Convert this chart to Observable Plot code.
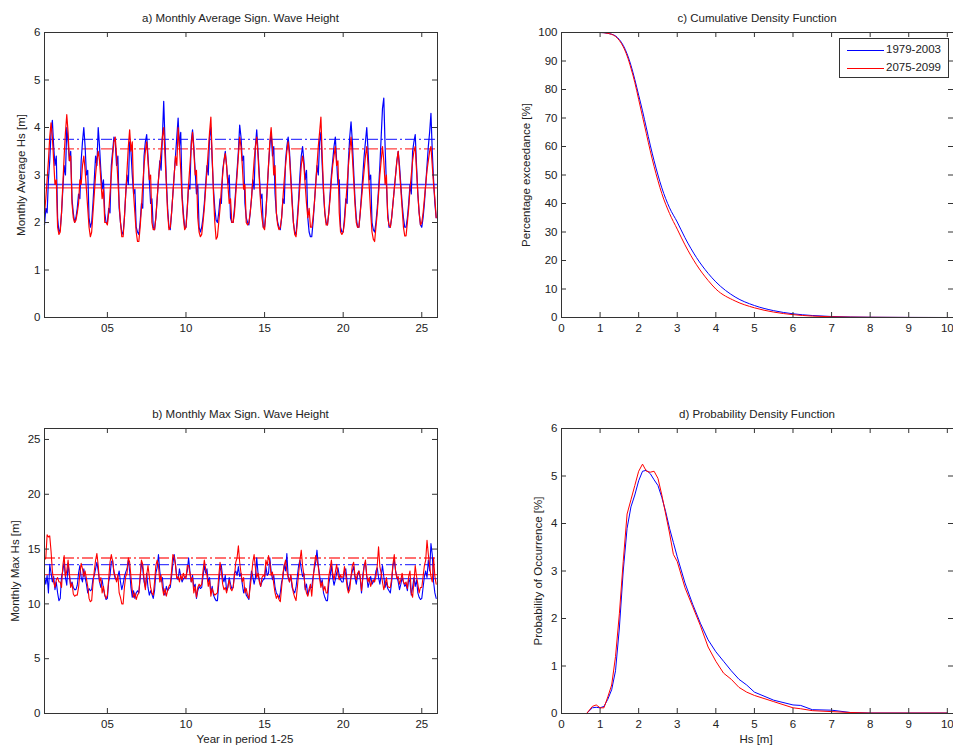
<!DOCTYPE html>
<html><head><meta charset="utf-8">
<script src="https://cdn.jsdelivr.net/npm/d3@7"></script>
<script src="https://cdn.jsdelivr.net/npm/@observablehq/plot@0.6"></script>
<style>
body{margin:0;background:#fff;}
#fig{position:relative;width:953px;height:747px;overflow:hidden;font-family:"Liberation Sans",Arial,sans-serif;color:#222;background:#fff;}
.p{position:absolute;}
.t{position:absolute;font-size:11.5px;white-space:nowrap;transform:translate(-50%,-50%);}
.yl{position:absolute;font-size:11.5px;white-space:nowrap;transform:translate(-50%,-50%) rotate(-90deg);}
#legend{position:absolute;left:839px;top:38px;width:108px;height:38px;border:1px solid #333;background:#fff;font-size:11.5px;}
#legend .row{position:absolute;left:0;height:16px;width:108px;}
#legend .ln{position:absolute;left:7px;top:8px;width:37px;height:0;border-top:1px solid;}
#legend .lb{position:absolute;left:46px;top:1px;}
</style></head><body><div id="fig"></div><script>
// ---------- DATA ----------
const seriesNames = ["1979-2003", "2075-2099"];
const titles = ["a) Monthly Average Sign. Wave Height","b) Monthly Max Sign. Wave Height","c) Cumulative Density Function","d) Probability Density Function"];
const yLabels = ["Monthly Average Hs [m]","Monthly Max Hs [m]","Percentage exceedance [%]","Probability of Occurrence [%]"];
const xLabels = ["Year in period 1-25","Hs [m]"];
const yearTicks = [5,10,15,20,25];
const yearTickLabels = ["05","10","15","20","25"];
const hsTicks = [0,1,2,3,4,5,6,7,8,9,10];
const avgTicks = [0,1,2,3,4,5,6];
const maxTicks = [0,5,10,15,20,25];
const cdfTicks = [0,10,20,30,40,50,60,70,80,90,100];
const pdfTicks = [0,1,2,3,4,5,6];

// monthly average Hs, 12 values per year, years 1..25
const avgBlue = [
1.95,2.3,2.2,2.9,3.3,3.9,4.15,3.6,3.2,3.4,2.1,1.8,
1.85,2.2,2.7,3.2,3.0,4.0,3.7,3.3,3.5,2.5,2.2,2.0,
2.1,2.3,2.6,2.5,3.3,3.7,4.0,3.6,3.0,3.1,2.1,1.9,
2.0,2.4,2.9,3.4,3.2,4.0,3.6,3.1,2.7,2.9,2.2,2.0,
2.0,2.3,2.2,3.2,3.5,3.8,3.7,3.2,3.4,2.3,2.0,1.8,
1.75,2.1,2.6,3.0,2.8,3.7,3.5,3.0,2.6,2.7,1.9,1.8,
1.75,2.0,2.4,2.3,3.4,3.7,3.85,3.4,2.9,2.4,2.5,1.9,
1.85,2.1,2.5,2.9,3.3,3.1,3.8,4.55,3.7,2.9,2.3,1.9,
1.85,2.2,2.6,3.0,3.4,3.8,4.2,3.6,3.9,2.6,2.2,1.9,
1.9,2.3,2.8,2.7,3.7,3.95,3.6,3.1,2.6,2.8,1.9,1.8,
1.9,2.1,2.4,2.8,3.2,3.0,3.8,4.0,3.3,2.7,2.3,2.05,
2.0,2.2,2.5,2.4,3.1,3.3,3.5,3.2,2.8,3.0,2.1,2.0,
2.0,2.3,2.7,3.1,3.5,4.05,3.8,3.3,3.4,2.4,2.1,2.0,
1.95,2.2,2.5,2.9,2.7,3.6,3.95,3.5,3.0,2.5,2.6,1.9,
1.9,2.2,2.7,3.2,3.6,3.9,3.4,3.6,2.6,2.2,2.0,1.9,
1.85,2.1,2.5,2.4,3.3,3.6,3.8,3.5,3.0,2.5,2.0,1.8,
1.75,2.1,2.5,3.0,3.4,3.6,3.3,2.9,3.1,2.1,1.8,1.7,
1.7,2.0,2.4,2.8,3.2,3.0,3.7,3.9,3.2,2.6,2.2,2.0,
1.95,2.2,2.6,3.0,3.3,3.6,3.8,3.3,2.8,2.9,1.9,1.8,
1.8,2.1,2.5,2.4,3.3,3.8,4.12,3.7,3.1,2.5,2.1,1.9,
1.9,2.2,2.6,3.0,3.4,3.7,4.0,3.5,2.9,3.0,2.0,1.85,
1.8,2.0,2.3,2.7,3.2,3.8,4.4,4.62,3.6,2.8,2.2,1.9,
1.9,2.1,2.4,2.7,3.0,3.3,3.5,3.2,2.8,2.4,2.1,1.9,
1.9,2.1,2.4,2.8,2.6,3.5,3.7,3.85,3.2,2.6,2.2,1.95,
1.9,2.1,2.4,2.8,3.2,3.6,3.9,4.3,3.5,2.9,2.4,2.1];
const avgRed = [
2.2,2.5,2.9,3.3,3.8,4.1,3.8,3.3,2.8,2.9,1.9,1.75,
1.8,2.2,2.8,3.4,3.9,4.27,3.9,3.3,3.4,2.4,2.1,2.0,
2.05,2.2,2.4,2.9,2.8,3.2,3.4,3.1,2.7,2.3,1.9,1.7,
1.8,2.2,2.6,3.0,3.3,3.5,3.3,2.9,2.5,2.7,2.0,2.0,
1.95,2.2,2.6,3.0,3.4,3.7,3.8,3.4,2.9,2.4,2.0,1.7,
1.7,2.1,2.6,3.1,3.6,3.95,3.5,3.7,2.6,2.2,1.8,1.6,
1.6,1.9,2.3,2.8,3.2,3.5,3.7,3.3,2.9,3.0,2.0,1.85,
1.85,2.1,2.5,2.9,3.2,3.5,3.8,4.0,3.4,2.8,2.2,1.85,
1.9,2.2,2.6,3.0,3.4,3.2,4.0,3.6,3.1,2.5,2.1,1.85,
1.9,2.3,2.8,3.2,3.6,3.9,3.5,3.0,3.1,2.1,1.8,1.7,
1.75,2.0,2.3,2.7,3.1,3.5,3.9,4.22,3.4,2.6,2.0,1.65,
1.7,2.0,2.3,2.7,3.0,3.3,3.45,3.2,2.8,2.4,2.5,2.0,
2.0,2.2,2.6,3.0,3.4,3.8,3.6,3.2,2.7,2.8,2.0,1.95,
2.0,2.2,2.5,2.9,3.3,3.6,3.8,3.4,2.9,2.4,2.1,1.9,
1.85,2.2,2.7,3.2,3.7,4.0,3.6,3.0,3.2,2.2,1.95,1.85,
1.9,2.1,2.5,2.9,3.2,3.5,3.7,3.4,2.9,2.4,2.0,1.75,
1.7,2.0,2.4,2.8,3.2,3.4,3.2,2.8,2.4,2.1,2.3,1.9,
1.9,2.1,2.4,2.8,3.2,3.6,3.9,4.22,3.4,2.7,2.2,1.95,
1.95,2.2,2.5,2.9,3.2,3.4,3.6,3.2,3.3,2.2,1.8,1.75,
1.8,2.0,2.4,2.8,3.2,3.5,3.8,3.4,2.9,2.4,2.0,1.9,
1.9,2.2,2.5,2.8,3.1,3.4,3.6,3.2,2.7,2.2,1.8,1.65,
1.6,1.9,2.2,2.6,3.0,3.3,3.6,3.3,2.8,3.0,2.1,1.95,
1.9,2.1,2.4,2.7,3.0,3.3,3.5,3.1,2.7,2.3,1.9,1.72,
1.72,2.0,2.3,2.7,3.0,3.3,3.5,3.6,3.1,2.6,2.2,1.95,
2.0,2.2,2.5,2.8,3.1,3.3,3.5,3.6,3.2,2.8,2.5,2.1];
const avgMean = [2.8, 2.73];
const avgUpper = [3.75, 3.55];

// monthly max Hs
const maxBlue = [
12.5,11.8,12.6,11.0,13.6,12.8,12.0,12.5,11.3,12.0,11.0,10.3,
10.5,12.5,13.0,13.8,12.4,11.7,13.7,12.6,11.6,12.0,11.5,11.3,
11.3,11.7,12.8,13.5,12.4,12.0,13.2,12.4,11.8,11.0,11.4,11.2,
11.3,12.3,12.6,13.2,13.8,13.0,12.0,11.5,12.2,11.4,10.8,10.4,
10.5,12.0,12.6,13.8,14.0,12.8,12.3,12.2,12.5,13.0,12.0,11.3,
11.8,12.5,12.9,13.2,14.0,13.0,11.5,10.6,11.2,10.5,11.0,11.2,
11.0,12.3,13.8,13.2,12.0,11.5,12.8,11.5,10.8,11.2,10.9,10.5,
11.2,12.8,13.3,14.5,13.0,12.0,12.4,11.0,10.8,11.6,11.2,11.4,
11.5,12.5,13.7,14.5,13.6,12.4,12.2,13.2,12.5,12.0,12.3,12.4,
12.5,13.0,14.2,13.0,12.0,12.6,11.5,11.8,10.5,11.2,11.6,11.4,
11.5,12.5,13.5,12.8,13.2,12.0,12.4,11.0,11.6,10.8,10.5,10.3,
10.3,11.8,13.0,13.5,12.4,12.0,12.6,11.2,11.5,12.4,11.8,11.4,
11.5,12.8,13.0,12.6,13.4,12.5,12.8,11.8,11.0,11.5,10.8,10.6,
10.4,12.0,13.0,12.5,11.8,12.4,14.2,12.8,12.2,11.6,12.0,12.2,
12.3,13.4,12.6,12.8,14.2,13.0,12.2,12.6,11.5,11.0,10.8,10.5,
11.0,12.0,12.4,13.6,13.0,14.6,12.5,12.0,12.6,11.5,11.2,11.0,
11.5,12.5,13.5,14.0,13.2,12.5,12.8,11.3,11.8,10.8,11.2,11.5,
11.5,12.5,13.2,13.8,14.9,13.5,12.6,11.8,12.2,11.0,10.6,10.3,
10.3,11.8,12.5,13.5,12.4,11.7,12.2,12.8,13.3,12.6,12.2,12.0,
12.0,13.0,13.2,12.0,11.2,11.8,12.5,13.0,13.4,12.4,11.8,12.6,
13.0,12.3,11.0,12.6,13.5,13.8,12.5,11.5,12.0,12.5,11.8,12.0,
12.2,13.0,13.3,12.4,11.8,12.6,13.5,12.5,11.5,12.0,11.4,11.2,
11.0,12.0,13.5,14.0,13.0,12.5,12.0,11.3,11.8,12.4,12.0,11.6,
11.8,11.2,12.3,12.0,10.8,11.5,12.4,11.6,12.2,11.0,10.6,10.4,
10.5,11.5,12.5,13.0,12.4,14.0,13.0,15.5,14.5,12.0,11.0,10.5];
const maxRed = [
14.0,14.2,16.3,16.1,16.2,14.8,13.0,12.0,11.5,12.2,12.4,12.0,
12.0,11.5,13.5,14.4,12.5,13.0,14.0,12.8,11.5,11.9,10.9,10.7,
10.8,10.8,11.5,12.8,13.7,13.2,12.5,13.0,12.3,11.6,10.5,10.2,
10.3,11.8,13.0,14.0,14.6,13.5,12.0,12.4,11.0,11.6,10.8,10.5,
10.8,12.3,13.8,14.5,13.9,13.0,12.5,12.0,12.6,11.0,10.6,10.0,
10.0,11.5,12.5,12.8,14.2,13.8,12.5,11.2,10.6,11.0,10.4,10.8,
11.0,12.5,14.0,13.6,12.3,11.3,12.6,13.5,12.5,11.5,11.0,10.8,
12.0,13.5,14.0,13.5,12.0,12.6,11.5,10.8,11.4,10.7,11.2,11.6,
11.8,13.0,14.5,14.3,13.5,12.3,12.5,12.0,12.6,12.2,12.8,12.4,
12.3,13.5,13.5,12.8,12.0,12.4,11.0,11.6,10.6,11.5,11.8,11.6,
11.8,13.0,14.0,13.2,12.6,11.6,12.2,10.7,11.4,11.0,10.8,10.9,
11.0,12.5,13.8,13.0,11.8,11.3,11.5,11.0,11.6,12.2,11.4,11.2,
11.5,12.5,13.8,14.2,15.3,13.8,12.8,12.0,12.4,11.0,11.4,10.8,
10.5,11.5,12.5,13.8,14.5,13.3,12.4,12.8,12.0,11.6,12.4,12.6,
12.5,14.0,13.5,14.4,13.8,12.6,12.9,11.8,11.0,10.5,10.8,10.4,
10.2,11.5,12.8,13.5,14.0,13.0,12.4,12.0,12.6,11.8,11.0,10.6,
10.3,11.5,12.8,14.0,14.9,13.5,12.6,11.5,11.0,10.7,11.4,11.8,
10.7,12.2,13.5,14.4,14.0,13.4,12.3,11.5,12.0,11.2,11.6,11.0,
11.0,12.5,13.2,14.0,12.8,12.2,12.9,13.6,12.7,12.2,12.6,12.4,
12.5,13.4,12.6,11.5,11.0,11.3,12.5,13.5,13.8,12.6,12.2,12.8,
13.0,12.5,11.2,12.3,13.4,14.0,12.6,12.0,12.4,11.6,12.0,12.2,
12.0,12.5,13.5,15.2,13.4,12.8,12.0,11.3,11.8,12.4,11.6,11.5,
11.5,12.3,13.6,14.5,13.0,12.3,12.5,11.8,12.2,12.8,12.0,11.8,
12.0,11.4,12.5,13.0,11.0,10.6,12.0,13.5,12.5,11.8,11.0,11.5,
11.5,12.5,13.5,14.0,15.8,14.5,13.5,12.5,12.0,14.2,12.5,11.8];
const maxMean = [12.3, 12.67];
const maxUpper = [13.58, 14.18];

// exceedance curve
const cdfHs   = [0.9,1.0,1.2,1.4,1.5,1.6,1.7,1.8,1.9,2.0,2.1,2.2,2.3,2.4,2.5,2.6,2.8,3.0,3.2,3.5,3.8,4.0,4.5,5.0,5.5,6.0,6.5,7.0,8.0,9.0,10.0];
const cdfBlue = [100,100,99.7,98.8,97.5,95.5,92.5,88.5,83.5,78,72.5,66.5,60.5,55,50,45.5,38.5,33.5,28,21,15.5,12.5,7.2,4.2,2.4,1.3,0.7,0.35,0.1,0.03,0];
const cdfRed  = [100,100,99.7,98.6,97.2,95,91.8,87.5,82.5,76.5,70.5,64.5,58.5,53,48,43.5,36.5,31,25.5,18.5,13,10,5.8,3.4,1.9,1.0,0.5,0.25,0.08,0.02,0];

// probability density
const pdfHs   = [0.65,0.8,0.9,1.0,1.1,1.2,1.3,1.4,1.5,1.6,1.7,1.8,1.9,2.0,2.1,2.2,2.3,2.4,2.5,2.6,2.7,2.8,2.9,3.0,3.2,3.4,3.6,3.8,4.0,4.2,4.4,4.6,4.8,5.0,5.5,6.0,6.2,6.5,7.0,7.5,8.0,9.0,10.0];
const pdfBlue = [0,0.12,0.13,0.12,0.15,0.3,0.5,0.9,1.8,3.0,3.9,4.35,4.6,4.9,5.1,5.12,5.05,4.92,4.8,4.55,4.25,3.9,3.6,3.3,2.75,2.3,1.9,1.55,1.3,1.1,0.9,0.72,0.6,0.45,0.28,0.18,0.17,0.08,0.07,0.02,0.01,0.01,0.01];
const pdfRed  = [0,0.15,0.18,0.12,0.12,0.35,0.6,1.2,2.1,3.2,4.2,4.5,4.8,5.1,5.25,5.1,5.08,5.1,4.95,4.6,4.2,3.8,3.35,3.2,2.65,2.25,1.85,1.4,1.1,0.85,0.72,0.55,0.45,0.38,0.25,0.12,0.1,0.06,0.04,0.02,0.01,0.01,0.01];

// ---------- STYLE ----------
const colors = ["#0000ff", "#ff0000"];
const axisColor = "#333";
const font = '"Liberation Sans", Arial, sans-serif';

const fig = document.getElementById("fig");
const monthly = arr => arr.map((v, i) => ({x: 1 + i / 12, y: v}));
const pairs = (xs, ys) => xs.map((x, i) => ({x, y: ys[i]}));

function panel({left, top, W, H, ml, mr, mt, mb, xDomain, yDomain, xTicks, xFmt, yTicks, series, means, uppers, curve, sw}) {
  const iw = W - ml - mr, ih = H - mt - mb;
  const marks = [];
  if (uppers) uppers.forEach((v, k) => marks.push(Plot.ruleY([v], {stroke: colors[k], strokeWidth: 1.4, strokeOpacity: 0.75, strokeDasharray: "11,3,2,3"})));
  if (means) means.forEach((v, k) => marks.push(Plot.ruleY([v], {stroke: colors[k], strokeWidth: 1.4, strokeOpacity: 0.75})));
  series.forEach((d, k) => marks.push(Plot.line(d, {x: "x", y: "y", stroke: colors[k], strokeWidth: sw || 1, curve: curve || "linear"})));
  marks.push(
    Plot.ruleX(xTicks, {x: d => d, insetTop: ih - 5, stroke: axisColor}),
    Plot.ruleX(xTicks, {x: d => d, insetBottom: ih - 5, stroke: axisColor}),
    Plot.ruleY(yTicks, {y: d => d, insetRight: iw - 5, stroke: axisColor}),
    Plot.ruleY(yTicks, {y: d => d, insetLeft: iw - 5, stroke: axisColor}),
    Plot.frame({stroke: axisColor}),
    Plot.axisX(xTicks, {tickSize: 0, tickPadding: 6, tickFormat: xFmt, label: null}),
    Plot.axisY(yTicks, {tickSize: 0, tickPadding: 4, label: null})
  );
  const svg = Plot.plot({
    width: W, height: H, marginLeft: ml, marginRight: mr, marginTop: mt, marginBottom: mb,
    x: {domain: xDomain}, y: {domain: yDomain},
    style: {fontSize: "11.5px", fontFamily: font, color: "#222", background: "transparent", overflow: "visible"},
    marks
  });
  svg.classList.add("p");
  svg.style.left = left + "px"; svg.style.top = top + "px";
  fig.appendChild(svg);
}

// a) monthly average
panel({left: 0, top: 0, W: 476, H: 372, ml: 44, mr: 39, mt: 32, mb: 55,
  xDomain: [1, 26], yDomain: [0, 6], xTicks: yearTicks, xFmt: (d, i) => yearTickLabels[i], yTicks: avgTicks,
  series: [monthly(avgBlue), monthly(avgRed)], means: avgMean, uppers: avgUpper, sw: 1.2});
// b) monthly max
panel({left: 0, top: 372, W: 476, H: 375, ml: 44, mr: 39, mt: 56, mb: 34,
  xDomain: [1, 26], yDomain: [0, 26], xTicks: yearTicks, xFmt: (d, i) => yearTickLabels[i], yTicks: maxTicks,
  series: [monthly(maxBlue), monthly(maxRed)], means: maxMean, uppers: maxUpper, sw: 1.1});
// c) exceedance
panel({left: 476, top: 0, W: 477, H: 372, ml: 85, mr: 0, mt: 32, mb: 55,
  xDomain: [0, 10.16], yDomain: [0, 100], xTicks: hsTicks, xFmt: d => String(d), yTicks: cdfTicks,
  series: [pairs(cdfHs, cdfBlue), pairs(cdfHs, cdfRed)], curve: "monotone-x"});
// d) pdf
panel({left: 476, top: 372, W: 477, H: 375, ml: 85, mr: 0, mt: 56, mb: 34,
  xDomain: [0, 10.16], yDomain: [0, 6], xTicks: hsTicks, xFmt: d => String(d), yTicks: pdfTicks,
  series: [pairs(pdfHs, pdfBlue), pairs(pdfHs, pdfRed)]});

// text
function addText(cls, txt, x, y) {
  const d = document.createElement("div");
  d.className = cls; d.textContent = txt;
  d.style.left = x + "px"; d.style.top = y + "px";
  fig.appendChild(d);
}
addText("t", titles[0], 240.5, 18);
addText("t", titles[1], 240.5, 414);
addText("t", titles[2], 757, 18);
addText("t", titles[3], 757, 414);
addText("yl", yLabels[0], 21, 174.5);
addText("yl", yLabels[1], 14.5, 570.5);
addText("yl", yLabels[2], 526, 174.5);
addText("yl", yLabels[3], 537.5, 570.5);
addText("t", xLabels[0], 245, 739);
addText("t", xLabels[1], 756, 739);

// legend
const lg = document.createElement("div");
lg.id = "legend";
seriesNames.forEach((name, k) => {
  const r = document.createElement("div");
  r.className = "row"; r.style.top = (3 + k * 17.5) + "px";
  const ln = document.createElement("div"); ln.className = "ln"; ln.style.borderColor = colors[k];
  const lb = document.createElement("div"); lb.className = "lb"; lb.textContent = name;
  r.appendChild(ln); r.appendChild(lb); lg.appendChild(r);
});
fig.appendChild(lg);
</script></body></html>
